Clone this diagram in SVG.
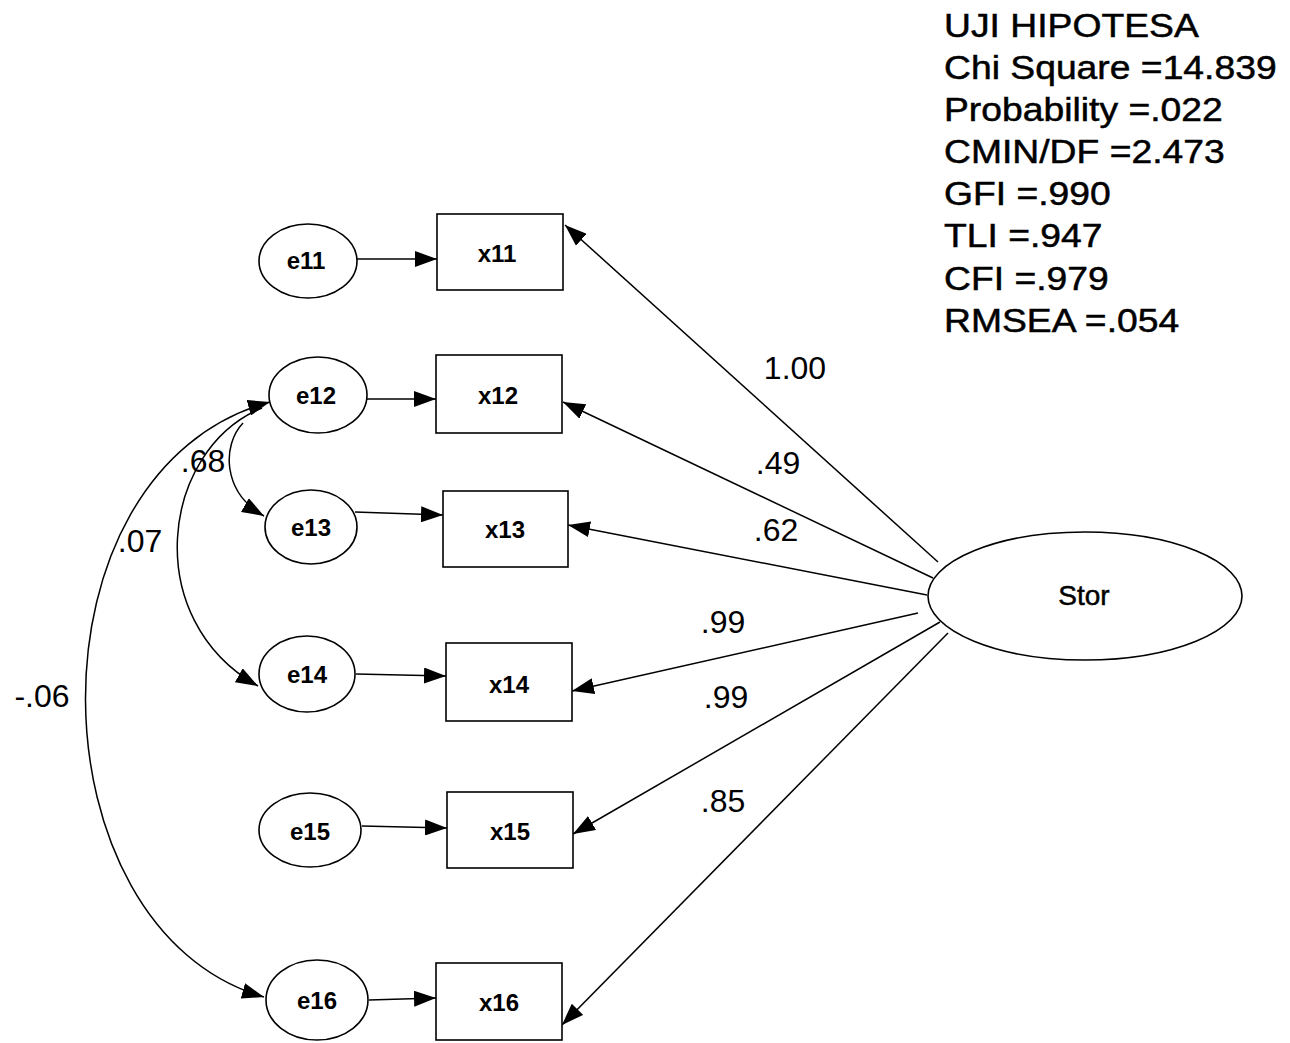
<svg xmlns="http://www.w3.org/2000/svg" width="1290" height="1043" viewBox="0 0 1290 1043">
<style>
  .node { fill: #fff; stroke: #000; stroke-width: 1.6; }
  .nl { font-family: "Liberation Sans", Arial, sans-serif; font-size: 24px; font-weight: bold; fill: #000; text-anchor: middle; dominant-baseline: central; }
  .big { font-size: 28px; font-weight: normal; stroke: #000; stroke-width: 0.5; }
  .el { font-family: "Liberation Sans", Arial, sans-serif; font-size: 32px; fill: #000; text-anchor: middle; dominant-baseline: central; }
  .st { font-family: "Liberation Sans", Arial, sans-serif; font-size: 33px; fill: #000; stroke: #000; stroke-width: 0.5; }
  .c { fill: none; stroke: #000; stroke-width: 1.5; }
</style>
<defs>
  <marker id="ah" viewBox="0 0 22 16" refX="22" refY="8" markerWidth="22" markerHeight="16" markerUnits="userSpaceOnUse" orient="auto-start-reverse">
    <path d="M0,0 L22,8 L0,16 Z" fill="#000"/>
  </marker>
</defs>
<rect width="1290" height="1043" fill="#fff"/>

<g id="connectors">
  <!-- Stor to indicators -->
  <line class="c" x1="938" y1="562" x2="565" y2="225" marker-end="url(#ah)"/>
  <line class="c" x1="933" y1="578" x2="563" y2="402" marker-end="url(#ah)"/>
  <line class="c" x1="927" y1="595" x2="568" y2="525" marker-end="url(#ah)"/>
  <line class="c" x1="918" y1="613" x2="572" y2="691" marker-end="url(#ah)"/>
  <line class="c" x1="940" y1="622" x2="573" y2="834" marker-end="url(#ah)"/>
  <line class="c" x1="948" y1="633" x2="562" y2="1025" marker-end="url(#ah)"/>
  <!-- errors to indicators -->
  <line class="c" x1="357" y1="259" x2="437" y2="259" marker-end="url(#ah)"/>
  <line class="c" x1="367" y1="399" x2="436" y2="399" marker-end="url(#ah)"/>
  <line class="c" x1="355" y1="512" x2="443" y2="515" marker-end="url(#ah)"/>
  <line class="c" x1="356" y1="674" x2="446" y2="676" marker-end="url(#ah)"/>
  <line class="c" x1="362" y1="826" x2="447" y2="828" marker-end="url(#ah)"/>
  <line class="c" x1="369" y1="1000" x2="436" y2="998" marker-end="url(#ah)"/>
  <!-- covariances -->
  <path class="c" d="M243,423 C222,445 222,492 264,516" marker-end="url(#ah)"/>
  <path class="c" d="M262,408 C160,450 140,620 258,686" marker-end="url(#ah)"/>
  <path class="c" d="M270,402 C20,470 30,930 264,997" marker-start="url(#ah)" marker-end="url(#ah)"/>
</g>

<g id="e11"><ellipse class="node" cx="308" cy="261" rx="49" ry="37"/><text class="nl" x="306" y="260">e11</text></g>
<g id="x11"><rect class="node" x="437" y="214" width="126" height="76"/><text class="nl" x="497" y="253">x11</text></g>
<g id="e12"><ellipse class="node" cx="318" cy="395" rx="49" ry="38"/><text class="nl" x="316" y="395">e12</text></g>
<g id="x12"><rect class="node" x="436" y="355" width="126" height="78"/><text class="nl" x="498" y="395">x12</text></g>
<g id="e13"><ellipse class="node" cx="311" cy="527" rx="46" ry="37"/><text class="nl" x="311" y="527">e13</text></g>
<g id="x13"><rect class="node" x="443" y="491" width="125" height="76"/><text class="nl" x="505" y="529">x13</text></g>
<g id="e14"><ellipse class="node" cx="307" cy="674" rx="48" ry="38"/><text class="nl" x="307" y="674">e14</text></g>
<g id="x14"><rect class="node" x="446" y="643" width="126" height="78"/><text class="nl" x="509" y="684">x14</text></g>
<g id="e15"><ellipse class="node" cx="310" cy="830" rx="51" ry="37"/><text class="nl" x="310" y="831">e15</text></g>
<g id="x15"><rect class="node" x="447" y="792" width="126" height="76"/><text class="nl" x="510" y="831">x15</text></g>
<g id="e16"><ellipse class="node" cx="317" cy="1000" rx="51" ry="40"/><text class="nl" x="317" y="1000">e16</text></g>
<g id="x16"><rect class="node" x="436" y="963" width="126" height="77"/><text class="nl" x="499" y="1002">x16</text></g>
<g id="Stor"><ellipse class="node" cx="1085" cy="596" rx="157" ry="64"/><text class="nl big" x="1084" y="595">Stor</text></g>

<g id="edge-labels">
  <text class="el" x="795" y="368">1.00</text>
  <text class="el" x="778" y="463">.49</text>
  <text class="el" x="776" y="530">.62</text>
  <text class="el" x="723" y="622">.99</text>
  <text class="el" x="726" y="697">.99</text>
  <text class="el" x="723" y="801">.85</text>
  <text class="el" x="203" y="461">.68</text>
  <text class="el" x="140" y="541">.07</text>
  <text class="el" x="42" y="696">-.06</text>
</g>

<g id="fit-stats" transform="translate(944,0) scale(1.13,1) translate(-944,0)">
  <text class="st" x="944" y="37">UJI HIPOTESA</text>
  <text class="st" x="944" y="79">Chi Square =14.839</text>
  <text class="st" x="944" y="121">Probability =.022</text>
  <text class="st" x="944" y="163">CMIN/DF =2.473</text>
  <text class="st" x="944" y="205">GFI =.990</text>
  <text class="st" x="944" y="247">TLI =.947</text>
  <text class="st" x="944" y="290">CFI =.979</text>
  <text class="st" x="944" y="332">RMSEA =.054</text>
</g>
</svg>
